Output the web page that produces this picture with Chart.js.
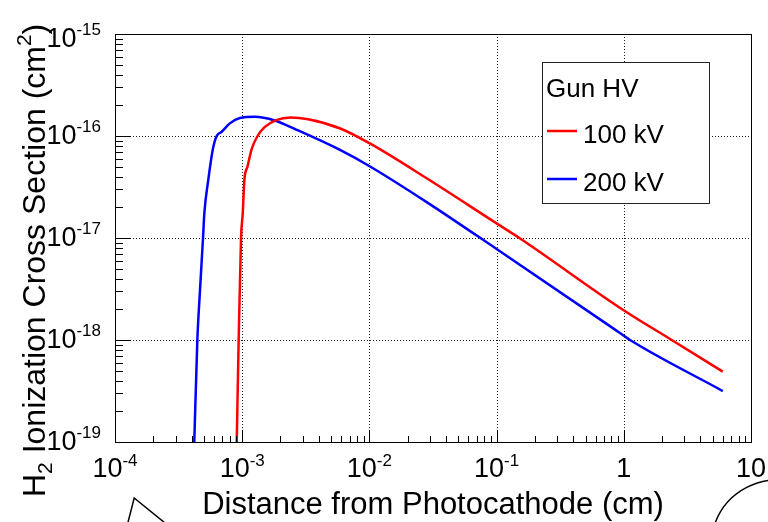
<!DOCTYPE html>
<html>
<head>
<meta charset="utf-8">
<script src="https://cdn.jsdelivr.net/npm/chart.js@4"></script>
<style>
  html, body { margin: 0; padding: 0; background: #fff; }
  #chart { display: block; }
</style>
</head>
<body>
<canvas id="chart" width="768" height="522"></canvas>
<script>
// curve values (distance in cm, cross section in cm^2)
const redX = [9.06e-4, 9.38e-4, 9.79e-4, 1.01e-3, 1.04e-3, 1.10e-3, 1.19e-3, 1.32e-3, 1.5e-3, 1.85e-3, 2.4e-3, 3.3e-3, 5.9e-3, 1.0e-2, 2.82e-2, 0.1, 0.153, 0.99, 2.38, 6.0];
const redY = [1e-19, 1e-18, 1e-17, 1.75e-17, 3.7e-17, 5.0e-17, 7.5e-17, 1.0e-16, 1.22e-16, 1.43e-16, 1.52e-16, 1.46e-16, 1.185e-16, 8.5e-17, 3.85e-17, 1.39e-17, 9.9e-18, 1.97e-18, 1.0e-18, 4.9e-19];
const blueX = [4.2e-4, 4.44e-4, 4.66e-4, 4.92e-4, 5.04e-4, 5.41e-4, 5.86e-4, 6.3e-4, 6.9e-4, 8.0e-4, 9.6e-4, 1.25e-3, 1.8e-3, 2.68e-3, 5.87e-3, 1.02e-2, 2.82e-2, 0.1, 0.826, 1.12, 6.0];
const blueY = [1e-19, 1e-18, 3.1e-18, 1e-17, 1.75e-17, 3.7e-17, 7.3e-17, 1.0e-16, 1.1e-16, 1.33e-16, 1.5e-16, 1.54e-16, 1.42e-16, 1.15e-16, 7.3e-17, 5.0e-17, 2.25e-17, 7.8e-18, 1.3e-18, 1.0e-18, 3.16e-19];

const seriesNames = ["100 kV", "200 kV"];
const legendTitle = "Gun HV";

// tick labels: base + exponent
const xTicks = [1e-4, 1e-3, 1e-2, 1e-1, 1, 10];
const xTickBase = ["10", "10", "10", "10", "1", "10"];
const xTickExp = ["-4", "-3", "-2", "-1", "", ""];
const yTicks = [1e-19, 1e-18, 1e-17, 1e-16, 1e-15];
const yTickExp = ["-19", "-18", "-17", "-16", "-15"];

const FONT = '"Liberation Sans", Arial, Helvetica, sans-serif';

function drawPow(ctx, base, exp, x, y, align) {
  ctx.font = "27px " + FONT;
  const wb = ctx.measureText(base).width;
  ctx.font = "17px " + FONT;
  const we = exp ? ctx.measureText(exp).width : 0;
  let x0 = x;
  if (align === "center") x0 = x - (wb + we) / 2;
  if (align === "right") x0 = x - (wb + we);
  ctx.textAlign = "left";
  ctx.textBaseline = "alphabetic";
  ctx.font = "27px " + FONT;
  ctx.fillText(base, x0, y);
  if (exp) {
    ctx.font = "17px " + FONT;
    ctx.fillText(exp, x0 + wb, y - 11.5);
  }
}

const rootStyle = {
  id: "rootStyle",
  beforeDatasetsDraw(chart) {
    const { ctx, chartArea: a, scales: { x, y } } = chart;
    ctx.save();
    ctx.strokeStyle = "#222";
    ctx.lineWidth = 1;
    ctx.setLineDash([1, 2]);
    xTicks.slice(1, -1).forEach(v => {
      const px = Math.round(x.getPixelForValue(v)) + 0.5;
      ctx.beginPath(); ctx.moveTo(px, a.top); ctx.lineTo(px, a.bottom); ctx.stroke();
    });
    yTicks.slice(1, -1).forEach(v => {
      const py = Math.round(y.getPixelForValue(v)) + 0.5;
      ctx.beginPath(); ctx.moveTo(a.left, py); ctx.lineTo(a.right, py); ctx.stroke();
    });
    ctx.restore();
  },
  afterDatasetsDraw(chart) {
    const { ctx, chartArea: a, scales: { x, y } } = chart;
    ctx.save();
    ctx.fillStyle = "#000";
    ctx.strokeStyle = "#000";
    ctx.lineWidth = 1;

    // frame
    ctx.strokeRect(Math.round(a.left) + 0.5, Math.round(a.top) + 0.5,
      Math.round(a.right - a.left), Math.round(a.bottom - a.top));

    // ticks on bottom axis
    ctx.beginPath();
    for (let d = -4; d <= 1; d++) {
      for (let m = 1; m <= 9; m++) {
        const v = m * Math.pow(10, d);
        if (v > 10.0001) break;
        const px = Math.round(x.getPixelForValue(v)) + 0.5;
        const len = m === 1 ? 12 : 6;
        ctx.moveTo(px, a.bottom); ctx.lineTo(px, a.bottom - len);
      }
    }
    // ticks on left axis
    for (let d = -19; d <= -15; d++) {
      for (let m = 1; m <= 9; m++) {
        const v = m * Math.pow(10, d);
        if (v > 1.0001e-15) break;
        const py = Math.round(y.getPixelForValue(v)) + 0.5;
        const len = m === 1 ? 16 : 8;
        ctx.moveTo(a.left, py); ctx.lineTo(a.left + len, py);
      }
    }
    ctx.stroke();

    // tick labels
    xTicks.forEach((v, i) => {
      drawPow(ctx, xTickBase[i], xTickExp[i], x.getPixelForValue(v), 477, "center");
    });
    yTicks.forEach((v, i) => {
      const py = y.getPixelForValue(v);
      const off = i === yTicks.length - 1 ? 12.5 : 7.5;
      drawPow(ctx, "10", yTickExp[i], 101, py + off, "right");
    });

    // x title
    ctx.font = "31px " + FONT;
    ctx.textAlign = "center";
    ctx.textBaseline = "alphabetic";
    ctx.fillText("Distance from Photocathode (cm)", (a.left + a.right) / 2, 514);

    // y title, rotated
    ctx.save();
    ctx.translate(45, 497);
    ctx.rotate(-Math.PI / 2);
    ctx.textAlign = "left";
    let tx = 0;
    ctx.font = "32px " + FONT;
    ctx.fillText("H", tx, 0); tx += ctx.measureText("H").width;
    ctx.font = "21px " + FONT;
    ctx.fillText("2", tx, 7); tx += ctx.measureText("2").width;
    ctx.font = "32px " + FONT;
    const mid = " Ionization Cross Section (cm";
    ctx.fillText(mid, tx, 0); tx += ctx.measureText(mid).width;
    ctx.font = "21px " + FONT;
    ctx.fillText("2", tx, -14); tx += ctx.measureText("2").width;
    ctx.font = "32px " + FONT;
    ctx.fillText(")", tx, 0);
    ctx.restore();

    // legend box
    ctx.fillStyle = "#fff";
    ctx.fillRect(542, 62, 167, 141);
    ctx.strokeStyle = "#222";
    ctx.strokeRect(542.5, 62.5, 167, 141);
    ctx.fillStyle = "#000";
    ctx.font = "26px " + FONT;
    ctx.textAlign = "left";
    ctx.fillText(legendTitle, 546, 97);
    const ds = chart.data.datasets;
    [131, 179].forEach((ly, i) => {
      ctx.strokeStyle = ds[i].borderColor;
      ctx.lineWidth = 2.5;
      ctx.beginPath(); ctx.moveTo(547, ly); ctx.lineTo(577, ly); ctx.stroke();
      ctx.fillStyle = "#000";
      ctx.fillText(seriesNames[i], 583, ly + 12);
    });

    // bits of neighbouring figure cut off at the bottom edge
    ctx.strokeStyle = "#000";
    ctx.lineWidth = 1.5;
    ctx.beginPath();
    ctx.moveTo(127.8, 523); ctx.lineTo(134.2, 498); ctx.lineTo(165, 523);
    ctx.stroke();
    ctx.beginPath();
    ctx.arc(777, 546, 66, 3.45, 5.3);
    ctx.stroke();
    ctx.restore();
  }
};

new Chart(document.getElementById("chart"), {
  type: "line",
  data: {
    datasets: [
      {
        label: seriesNames[0],
        data: redX.map((v, i) => ({ x: v, y: redY[i] })),
        borderColor: "#ff0000",
        borderWidth: 2.5,
        pointRadius: 0,
        cubicInterpolationMode: "monotone",
        fill: false
      },
      {
        label: seriesNames[1],
        data: blueX.map((v, i) => ({ x: v, y: blueY[i] })),
        borderColor: "#0000ff",
        borderWidth: 2.5,
        pointRadius: 0,
        cubicInterpolationMode: "monotone",
        fill: false
      }
    ]
  },
  options: {
    responsive: false,
    animation: false,
    events: [],
    layout: { padding: { left: 0, right: 17, top: 34, bottom: 0 } },
    plugins: { legend: { display: false }, tooltip: { enabled: false } },
    scales: {
      x: {
        type: "logarithmic",
        min: 1e-4,
        max: 10,
        grid: { display: false },
        border: { display: false },
        ticks: { display: false },
        afterFit: s => { s.height = 80; }
      },
      y: {
        type: "logarithmic",
        min: 1e-19,
        max: 1e-15,
        grid: { display: false },
        border: { display: false },
        ticks: { display: false },
        afterFit: s => { s.width = 115; }
      }
    }
  },
  plugins: [rootStyle]
});
</script>
</body>
</html>
